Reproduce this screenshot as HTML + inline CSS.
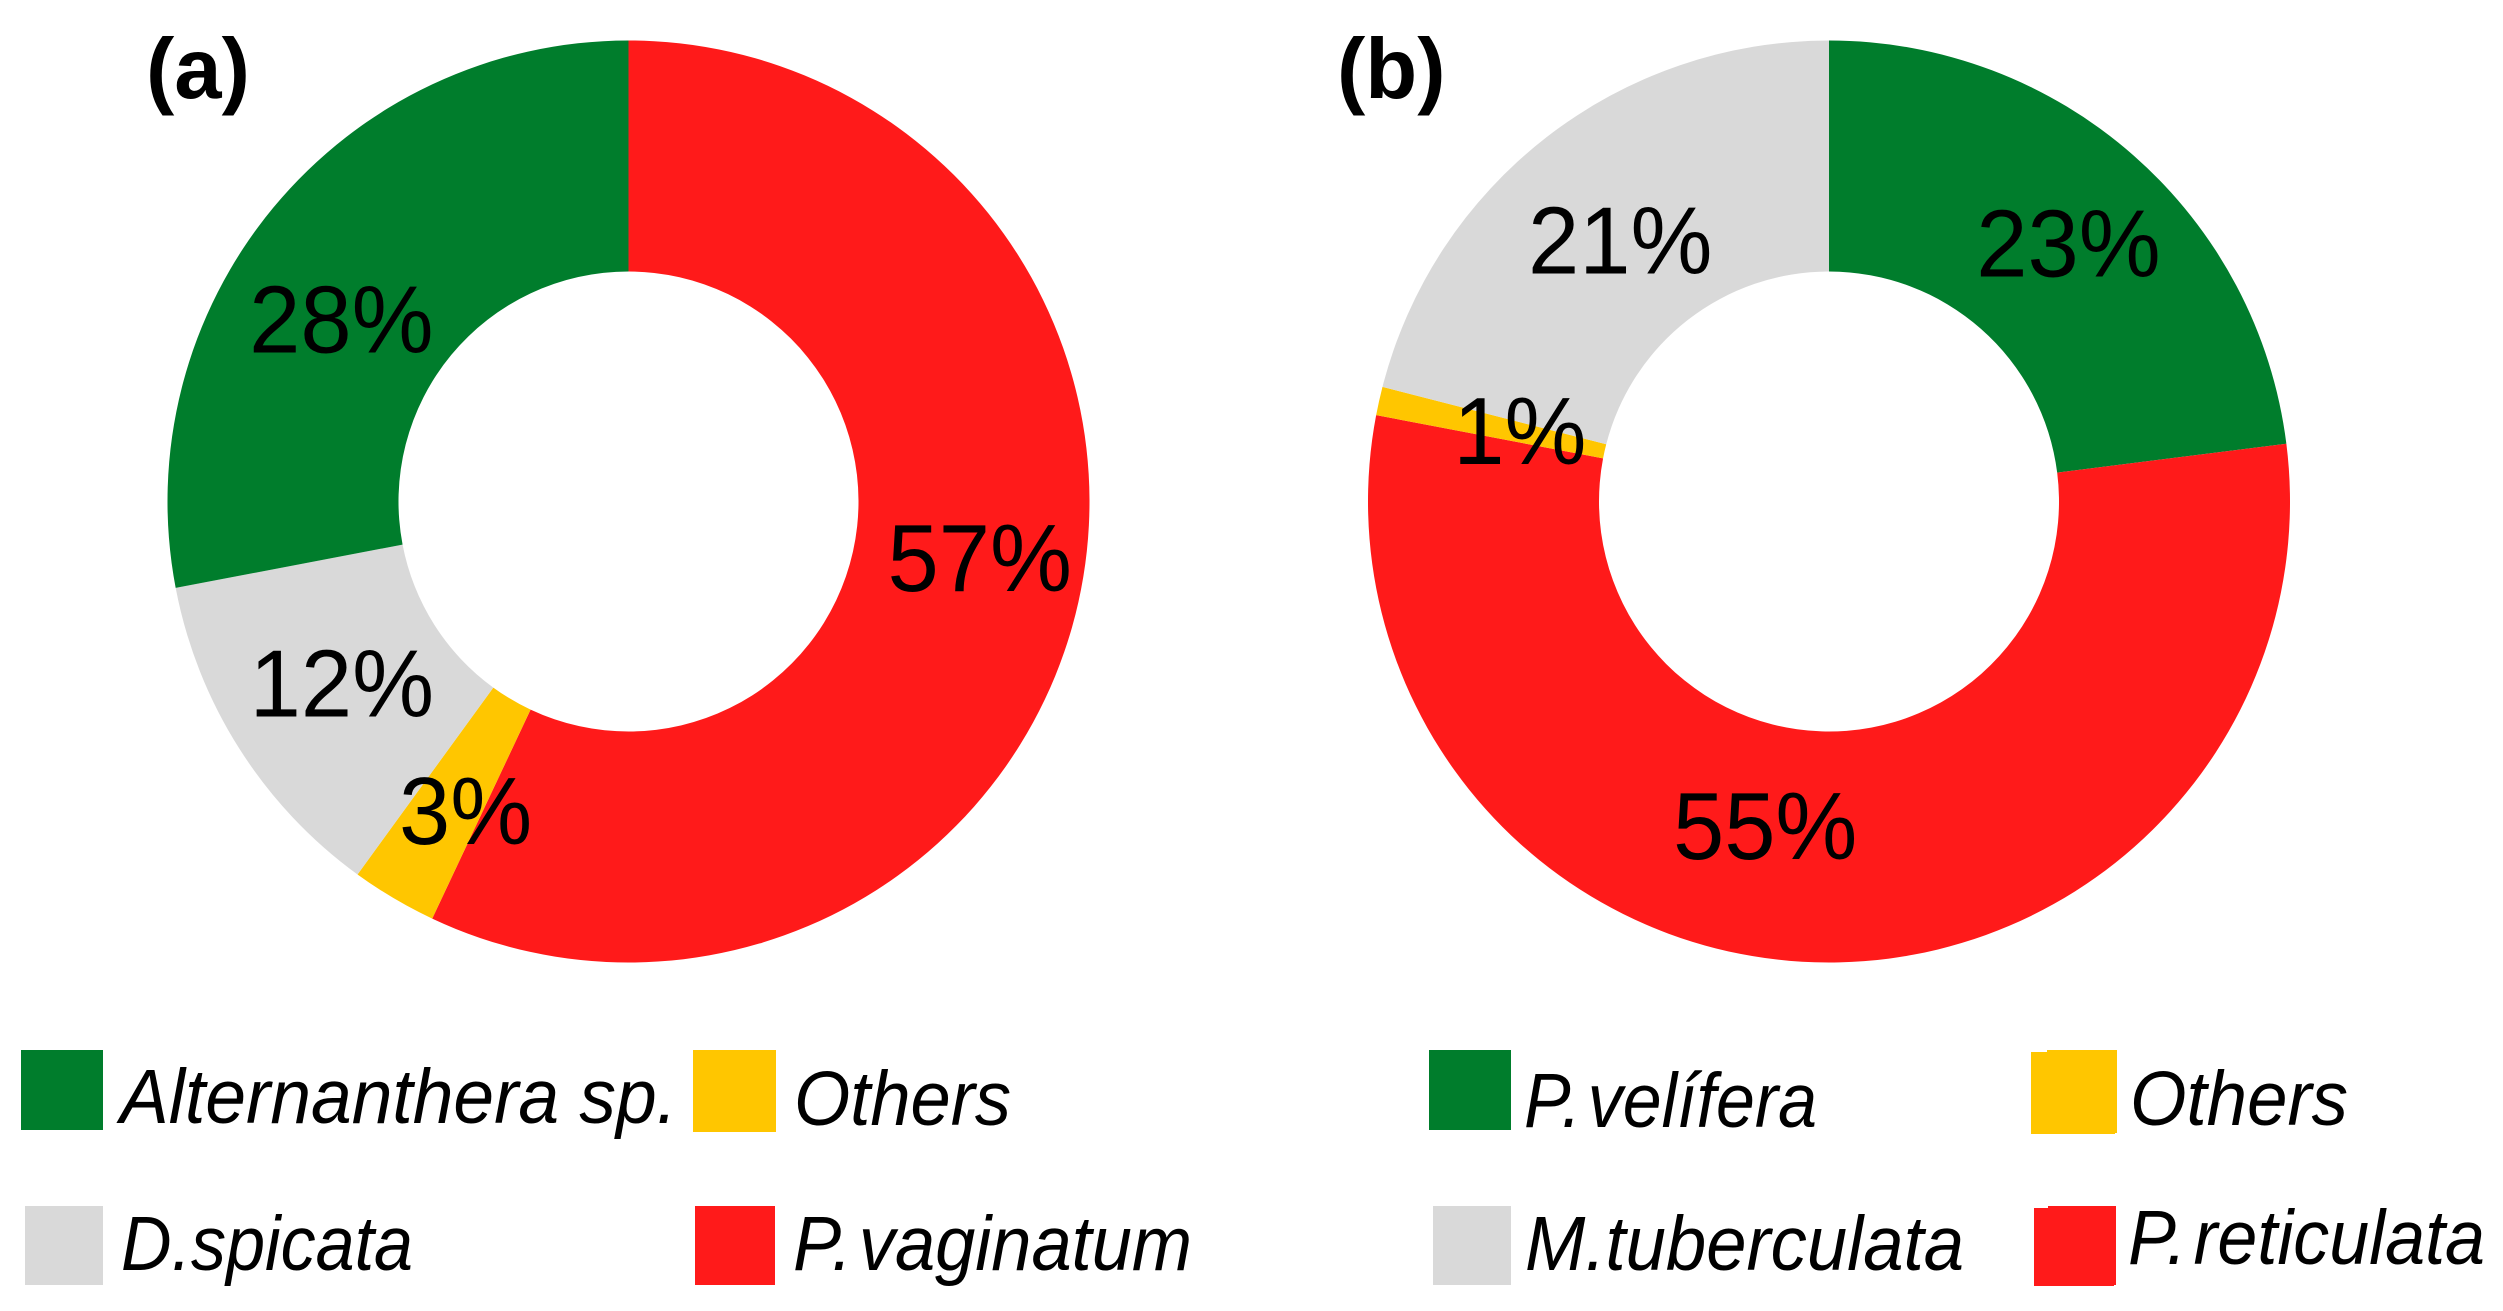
<!DOCTYPE html>
<html lang="en">
<head>
<meta charset="utf-8">
<title>Species composition donut charts</title>
<style>
  html, body { margin: 0; padding: 0; background: #fff; }
  #figure { display: block; }
  text { font-family: "Liberation Sans", sans-serif; fill: #000; }
  .legend-label { font-style: italic; font-size: 77px; }
  .tight-space { word-spacing: -14px; }
  .panel-label { font-weight: bold; font-size: 85px; }
  .value-label { font-size: 96px; text-anchor: middle; }
</style>
</head>
<body>
<svg id="figure" xmlns="http://www.w3.org/2000/svg" width="2503" height="1311" viewBox="0 0 2503 1311">
  <rect width="2503" height="1311" fill="#ffffff"/>
  <g id="chart-a"></g>
  <g id="chart-b"></g>
  <text class="panel-label" x="146" y="98">(a)</text>
  <text class="panel-label" x="1337" y="98">(b)</text>

  <g>
    <g>
      <rect x="21" y="1050" width="82" height="80" fill="#007d2c"/>
      <text class="legend-label" x="120" y="1123" textLength="557" lengthAdjust="spacingAndGlyphs">Alternanthera sp.</text>
    </g>
    <g>
      <rect x="693" y="1050" width="83" height="82" fill="#ffc600"/>
      <text class="legend-label" x="794" y="1125" textLength="217" lengthAdjust="spacingAndGlyphs">Others</text>
    </g>
    <g>
      <rect x="25" y="1206" width="78" height="79" fill="#d9d9d9"/>
      <text class="legend-label" x="121" y="1270" textLength="292" lengthAdjust="spacingAndGlyphs">D.spicata</text>
    </g>
    <g>
      <rect x="695" y="1206" width="80" height="79" fill="#ff1a1a"/>
      <text class="legend-label tight-space" x="793" y="1270" textLength="399" lengthAdjust="spacingAndGlyphs">P. vaginatum</text>
    </g>
  </g>

  <g>
    <g>
      <rect x="1429" y="1050" width="82" height="80" fill="#007d2c"/>
      <text class="legend-label tight-space" x="1524" y="1127" textLength="293" lengthAdjust="spacingAndGlyphs">P. velífera</text>
    </g>
    <g>
      <path d="M2031 1052H2047V1050H2117V1133H2115V1134H2031Z" fill="#ffc600"/>
      <text class="legend-label" x="2130" y="1125" textLength="218" lengthAdjust="spacingAndGlyphs">Others</text>
    </g>
    <g>
      <rect x="1433" y="1206" width="78" height="79" fill="#d9d9d9"/>
      <text class="legend-label" x="1525" y="1270" textLength="439" lengthAdjust="spacingAndGlyphs">M.tuberculata</text>
    </g>
    <g>
      <path d="M2034 1208H2048V1206H2116V1285H2114V1286H2034Z" fill="#ff1a1a"/>
      <text class="legend-label tight-space" x="2128" y="1264" textLength="357" lengthAdjust="spacingAndGlyphs">P. reticulata</text>
    </g>
  </g>
</svg>
<script>
// Chart data: percentages, clockwise from 12 o'clock.
var speciesA = ['P. vaginatum', 'Others', 'D. spicata', 'Alternanthera sp.'];
var valuesA = [57, 3, 12, 28];
var speciesB = ['P. velifera', 'P. reticulata', 'Others', 'M. tuberculata'];
var valuesB = [23, 55, 1, 21];

// Styling and layout, kept apart from the data.
var coloursA = ['#ff1a1a', '#ffc600', '#d9d9d9', '#007d2c'];
var coloursB = ['#007d2c', '#ff1a1a', '#ffc600', '#d9d9d9'];
var nudgesA = [[14, 14], [13, 45], [5, 30], [-21, 71]];
var nudgesB = [[11, 34], [-53, 12], [28, 38], [3, 45]];
var OUTER = 461;
var INNER = 230;
var WIDTH_SQUEEZE = 0.96;
var NS = 'http://www.w3.org/2000/svg';

function point(cx, cy, r, frac) {
  var a = frac * 2 * Math.PI;
  return [cx + r * Math.sin(a), cy - r * Math.cos(a)];
}

function slicePath(cx, cy, from, to) {
  var large = (to - from) > 0.5 ? 1 : 0;
  var p1 = point(cx, cy, OUTER, from);
  var p2 = point(cx, cy, OUTER, to);
  var p3 = point(cx, cy, INNER, to);
  var p4 = point(cx, cy, INNER, from);
  return 'M' + p1[0] + ' ' + p1[1] +
    'A' + OUTER + ' ' + OUTER + ' 0 ' + large + ' 1 ' + p2[0] + ' ' + p2[1] +
    'L' + p3[0] + ' ' + p3[1] +
    'A' + INNER + ' ' + INNER + ' 0 ' + large + ' 0 ' + p4[0] + ' ' + p4[1] + 'Z';
}

function drawDonut(groupId, cx, cy, names, values, colours, nudges) {
  var group = document.getElementById(groupId);
  var total = values.reduce(function (s, v) { return s + v; }, 0);
  var labels = [];
  var running = 0;
  values.forEach(function (value, i) {
    var from = running / total;
    running += value;
    var to = running / total;
    var path = document.createElementNS(NS, 'path');
    path.setAttribute('d', slicePath(cx, cy, from, to));
    path.setAttribute('fill', colours[i]);
    
    
    group.appendChild(path);

    var mid = point(cx, cy, (OUTER + INNER) / 2, (from + to) / 2);
    var text = document.createElementNS(NS, 'text');
    text.setAttribute('class', 'value-label');
    text.setAttribute('transform', 'translate(' + (mid[0] + nudges[i][0]) + ' ' + (mid[1] + nudges[i][1]) + ') scale(' + WIDTH_SQUEEZE + ' 1)');
    
    
    text.textContent = value + '%';
    labels.push(text);
  });
  labels.forEach(function (t) { group.appendChild(t); });
}

drawDonut('chart-a', 628.5, 501.5, speciesA, valuesA, coloursA, nudgesA);
drawDonut('chart-b', 1829, 501.5, speciesB, valuesB, coloursB, nudgesB);
</script>
</body>
</html>
